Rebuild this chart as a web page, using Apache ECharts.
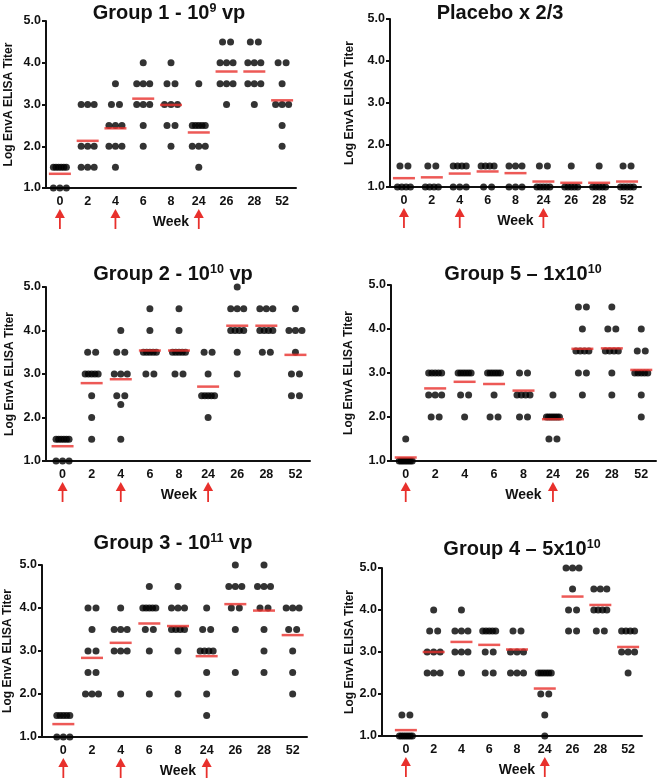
<!DOCTYPE html>
<html>
<head>
<meta charset="utf-8">
<script src="https://cdn.jsdelivr.net/npm/echarts@6/dist/echarts.min.js"></script>
<style>
  html, body { margin: 0; padding: 0; background: #fff; }
  #chart { width: 659px; height: 780px; }
</style>
</head>
<body>
<div id="chart"></div>
<script>
// 横轴（周）
const weeks = ['0', '2', '4', '6', '8', '24', '26', '28', '52']

// 每只动物的滴度（每周一组）
const group1Titers = [
  [1.5, 1.5, 1.5, 1.5, 1.5, 1.5, 1, 1, 1],
  [3, 3, 3, 2, 2, 2, 1.5, 1.5, 1.5],
  [3.5, 3, 3, 2.5, 2.5, 2.5, 2, 2, 2, 1.5],
  [4, 3.5, 3.5, 3.5, 3, 3, 3, 2.5, 2],
  [4, 3.5, 3.5, 3, 3, 3, 2.5, 2.5, 2],
  [3.5, 2.5, 2.5, 2.5, 2.5, 2.5, 2, 2, 2, 1.5],
  [4.5, 4.5, 4, 4, 4, 3.5, 3.5, 3.5, 3],
  [4.5, 4.5, 4, 4, 4, 3.5, 3.5, 3.5, 3],
  [4, 4, 3.5, 3, 3, 3, 2.5, 2]
]
const group1Means = [1.34, 2.13, 2.43, 3.14, 2.99, 2.33, 3.79, 3.79, 3.10]

const placeboTiters = [
  [1.5, 1.5, 1, 1, 1, 1],
  [1.5, 1.5, 1, 1, 1, 1],
  [1.5, 1.5, 1.5, 1.5, 1, 1, 1],
  [1.5, 1.5, 1.5, 1.5, 1, 1],
  [1.5, 1.5, 1.5, 1, 1, 1],
  [1.5, 1.5, 1, 1, 1, 1, 1],
  [1.5, 1, 1, 1, 1, 1],
  [1.5, 1, 1, 1, 1, 1],
  [1.5, 1.5, 1, 1, 1, 1, 1]
]
const placeboMeans = [1.21, 1.23, 1.32, 1.37, 1.33, 1.13, 1.10, 1.10, 1.13]

const group2Titers = [
  [1.5, 1.5, 1.5, 1.5, 1.5, 1.5, 1, 1, 1],
  [3.5, 3.5, 3, 3, 3, 3, 3, 2.5, 2, 1.5],
  [4, 3.5, 3.5, 3, 3, 3, 2.5, 2.5, 2.3, 1.5],
  [4.5, 4, 3.5, 3.5, 3.5, 3.5, 3.5, 3, 3],
  [4.5, 4, 3.5, 3.5, 3.5, 3.5, 3.5, 3, 3],
  [3.5, 3.5, 3, 2.5, 2.5, 2.5, 2.5, 2.5, 2],
  [5, 4.5, 4.5, 4.5, 4, 4, 4, 4, 3.5, 3],
  [4.5, 4.5, 4.5, 4, 4, 4, 4, 3.5, 3.5],
  [4.5, 4, 4, 4, 3.5, 3, 3, 2.5, 2.5]
]
const group2Means = [1.34, 2.79, 2.88, 3.54, 3.54, 2.71, 4.11, 4.11, 3.44]

const group5Titers = [
  [1.5, 1, 1, 1, 1, 1, 1, 1, 1],
  [3, 3, 3, 3, 3, 2.5, 2.5, 2.5, 2, 2],
  [3, 3, 3, 3, 3, 3, 2.5, 2.5, 2],
  [3, 3, 3, 3, 3, 3, 2.5, 2, 2],
  [3, 3, 2.5, 2.5, 2.5, 2.5, 2, 2],
  [2.5, 2, 2, 2, 2, 2, 2, 2, 1.5, 1.5],
  [4.5, 4.5, 4, 3.5, 3.5, 3.5, 3.5, 3, 3, 2.5],
  [4.5, 4, 4, 3.5, 3.5, 3.5, 3.5, 3, 2.5],
  [4, 3.5, 3.5, 3, 3, 3, 3, 3, 2.5, 2]
]
const group5Means = [1.08, 2.65, 2.80, 2.75, 2.60, 1.95, 3.55, 3.56, 3.07]

const group3Titers = [
  [1.5, 1.5, 1.5, 1.5, 1.5, 1, 1, 1],
  [4, 4, 3.5, 3, 3, 2.5, 2.5, 2, 2, 2],
  [4, 3.5, 3.5, 3.5, 3, 3, 3, 2],
  [4.5, 4, 4, 4, 4, 4, 3.5, 3.5, 3, 2],
  [4.5, 4, 4, 4, 3.5, 3.5, 3.5, 3.5, 3, 2],
  [4, 3.5, 3.5, 3, 3, 3, 3, 2.5, 2, 1.5],
  [5, 4.5, 4.5, 4.5, 4, 4, 3.5, 2.5],
  [5, 4.5, 4.5, 4.5, 4, 4, 3.5, 3, 2.5],
  [4, 4, 4, 3.5, 3.5, 3, 2.5, 2]
]
const group3Means = [1.30, 2.84, 3.19, 3.64, 3.58, 2.88, 4.09, 3.94, 3.37]

const group4Titers = [
  [1.5, 1.5, 1, 1, 1, 1, 1, 1, 1],
  [4, 3.5, 3.5, 3, 3, 3, 2.5, 2.5, 2.5],
  [4, 3.5, 3.5, 3.5, 3, 3, 3, 2.5],
  [3.5, 3.5, 3.5, 3.5, 3.5, 3, 3, 2.5, 2.5],
  [3.5, 3.5, 3, 3, 3, 2.5, 2.5, 2.5],
  [2.5, 2.5, 2.5, 2.5, 2.5, 2.5, 2, 2, 1.5, 1],
  [5, 5, 5, 4.5, 4, 4, 3.5, 3.5],
  [4.5, 4.5, 4.5, 4, 4, 4, 4, 3.5, 3.5],
  [3.5, 3.5, 3.5, 3.5, 3, 3, 3, 2.5]
]
const group4Means = [1.14, 3.00, 3.24, 3.17, 3.06, 2.13, 4.32, 4.12, 3.12]

// 免疫（箭头）所在的周
const boostsThree = ['0', '4', '24']
const boostsTwo = ['0', '24']

const RED = '#e8302c'
const FONT = "'Liberation Sans', Arial, Helvetica, sans-serif"

// 六个面板的布局
const panels = [
  { title: 'Group 1 - 10{sup|9} vp', tx: 169, ty: 2, grid: { left: 46, top: 21, width: 250, height: 167 }, yOff: 0, nameGap: 31, titers: group1Titers, means: group1Means, boosts: boostsThree },
  { title: 'Placebo x 2/3', tx: 500, ty: 3, grid: { left: 390, top: 19, width: 251, height: 168 }, yOff: 0, nameGap: 34, titers: placeboTiters, means: placeboMeans, boosts: boostsThree },
  { title: 'Group 2 - 10{sup|10} vp', tx: 173, ty: 263, grid: { left: 48, top: 287, width: 262, height: 174 }, yOff: 2, nameGap: 30, titers: group2Titers, means: group2Means, boosts: boostsThree },
  { title: 'Group 5 \u2013 1x10{sup|10}', tx: 523, ty: 263, grid: { left: 391, top: 285, width: 265, height: 176 }, yOff: 0, nameGap: 36, titers: group5Titers, means: group5Means, boosts: boostsTwo },
  { title: 'Group 3 - 10{sup|11} vp', tx: 173, ty: 532, grid: { left: 49, top: 565, width: 258, height: 172 }, yOff: 7, nameGap: 28, titers: group3Titers, means: group3Means, boosts: boostsThree },
  { title: 'Group 4 \u2013 5x10{sup|10}', tx: 522, ty: 538, grid: { left: 392, top: 568, width: 250, height: 168 }, yOff: 10, nameGap: 23, titers: group4Titers, means: group4Means, boosts: boostsTwo }
]

// 把同一数值的点横向排开
const spreadDots = (titers) => {
  const out = []
  titers.forEach((vals, i) => {
    const rows = {}
    vals.forEach(v => { (rows[v] = rows[v] || []).push(v) })
    Object.keys(rows).forEach(k => {
      const n = rows[k].length
      const step = n > 1 ? Math.min(8, 13 / (n - 1)) : 0
      rows[k].forEach((v, j) => {
        out.push({ value: [i, v], symbolOffset: [(j - (n - 1) / 2) * step, 0] })
      })
    })
  })
  return out
}

const chart = echarts.init(document.getElementById('chart'), null, { renderer: 'canvas' })

const option = {
  animation: false,
  backgroundColor: '#fff',
  textStyle: { fontFamily: FONT },
  title: panels.map(p => ({
    text: p.title,
    left: p.tx,
    top: p.ty,
    textAlign: 'center',
    padding: 0,
    textStyle: {
      fontFamily: FONT,
      fontSize: 20,
      fontWeight: 'bold',
      color: '#111',
      rich: {
        sup: { fontFamily: FONT, fontSize: 12.5, fontWeight: 'bold', color: '#111', verticalAlign: 'top', padding: [0, 0, 9, 0] }
      }
    }
  })),
  grid: panels.map(p => Object.assign({ containLabel: false, outerBoundsMode: 'none' }, p.grid)),
  xAxis: panels.map((p, i) => ({
    type: 'category',
    gridIndex: i,
    data: weeks,
    name: 'Week',
    nameLocation: 'middle',
    nameGap: 27,
    nameTextStyle: { fontFamily: FONT, fontSize: 14, fontWeight: 'bold', color: '#111' },
    axisLine: { lineStyle: { color: '#111', width: 2 } },
    axisTick: { alignWithLabel: true, length: 4, lineStyle: { color: '#111', width: 2 } },
    axisLabel: { fontFamily: FONT, fontSize: 12.5, fontWeight: 'bold', color: '#111', margin: 7, interval: 0 },
    splitLine: { show: false }
  })),
  yAxis: panels.map((p, i) => ({
    type: 'value',
    gridIndex: i,
    min: 1,
    max: 5,
    interval: 1,
    offset: p.yOff,
    name: 'Log EnvA ELISA Titer',
    nameLocation: 'middle',
    nameGap: p.nameGap,
    nameTextStyle: { fontFamily: FONT, fontSize: 12, fontWeight: 'bold', color: '#111' },
    axisLine: { show: true, lineStyle: { color: '#111', width: 2 } },
    axisTick: { show: true, length: 4, lineStyle: { color: '#111', width: 2 } },
    axisLabel: { fontFamily: FONT, fontSize: 12.5, fontWeight: 'bold', color: '#111', margin: 5, formatter: v => v.toFixed(1) },
    splitLine: { show: false }
  })),
  series: []
}

panels.forEach((p, i) => {
  // 个体数据点
  option.series.push({
    type: 'scatter',
    xAxisIndex: i,
    yAxisIndex: i,
    symbol: 'circle',
    symbolSize: 7,
    clip: false,
    itemStyle: { color: '#000' },
    z: 2,
    data: spreadDots(p.titers)
  })
  // 均值横线
  option.series.push({
    type: 'scatter',
    xAxisIndex: i,
    yAxisIndex: i,
    symbol: 'rect',
    symbolSize: [22, 2.5],
    clip: false,
    itemStyle: { color: RED },
    z: 3,
    data: p.means.map((m, k) => [k, m])
  })
  // 免疫箭头
  option.series.push({
    type: 'custom',
    xAxisIndex: i,
    yAxisIndex: i,
    clip: false,
    z: 1,
    data: p.boosts.map(w => [w, 1]),
    renderItem: (params, api) => {
      const pt = api.coord([api.value(0), 1])
      const x = pt[0]
      const y = pt[1]
      return {
        type: 'group',
        children: [
          { type: 'polygon', shape: { points: [[x, y + 21], [x - 5, y + 30], [x + 5, y + 30]] }, style: { fill: RED } },
          { type: 'rect', shape: { x: x - 0.9, y: y + 29, width: 1.8, height: 12 }, style: { fill: RED } }
        ]
      }
    }
  })
})

// y 轴有偏移时补上横轴的起始段
option.graphic = panels.filter(p => p.yOff > 0).map(p => ({
  type: 'line',
  shape: { x1: p.grid.left - p.yOff - 1, y1: p.grid.top + p.grid.height, x2: p.grid.left, y2: p.grid.top + p.grid.height },
  style: { stroke: '#111', lineWidth: 2 }
}))

chart.setOption(option)
</script>
</body>
</html>
